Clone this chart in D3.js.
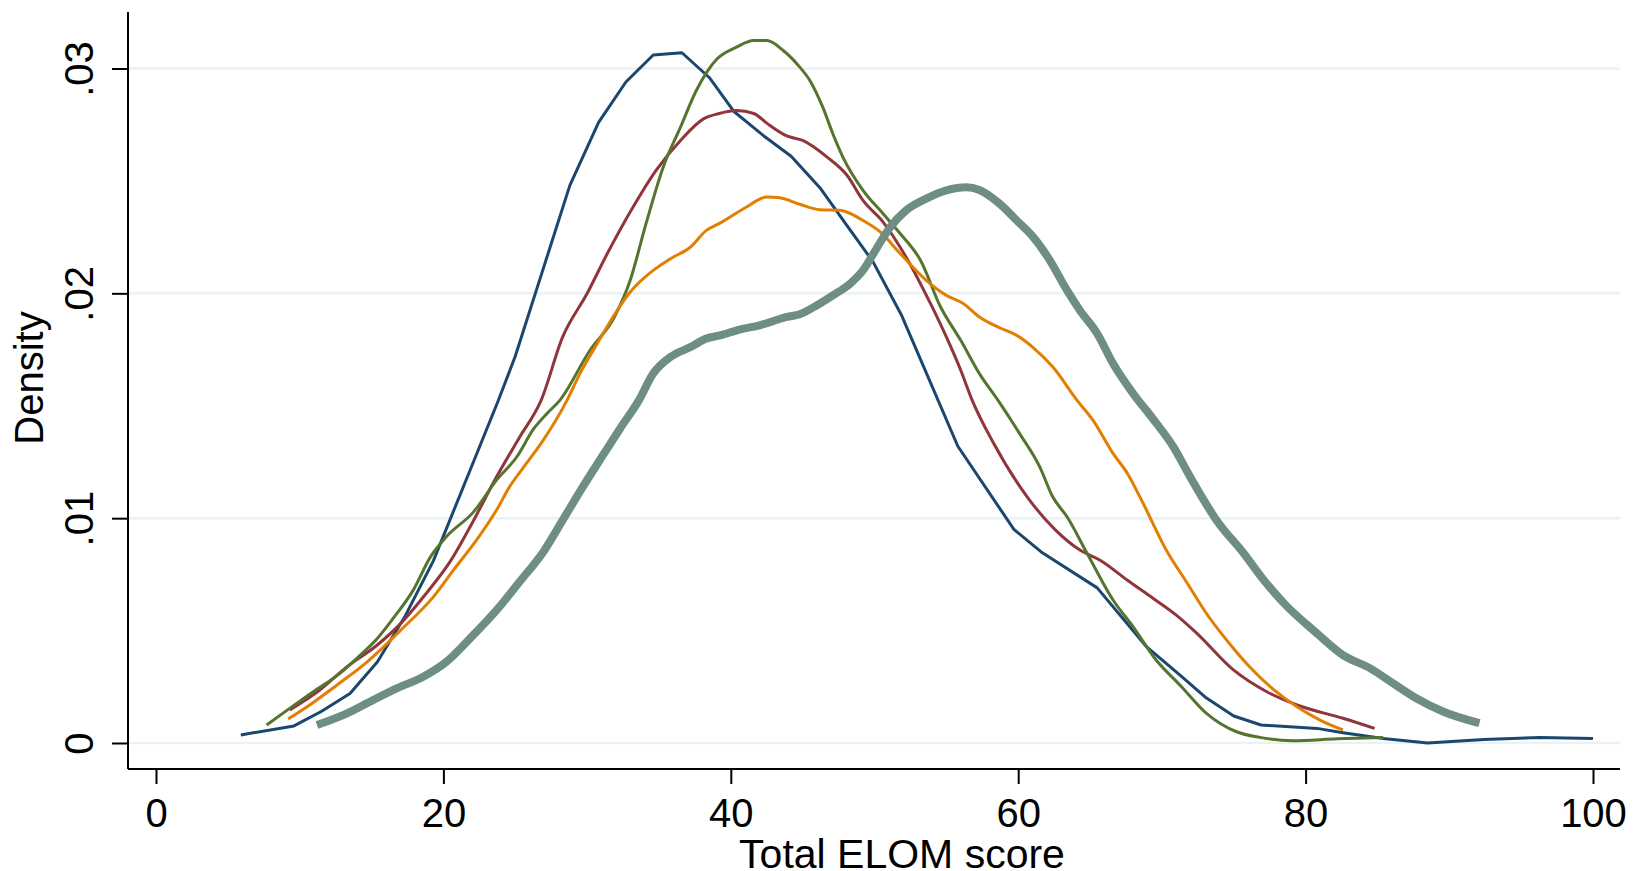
<!DOCTYPE html>
<html>
<head>
<meta charset="utf-8">
<script src="https://cdn.jsdelivr.net/npm/d3@7"></script>
<style>
  body { margin: 0; background: #fff; }
  text { font-family: "Liberation Sans", Arial, Helvetica, sans-serif; fill: #000; }
</style>
</head>
<body>
<div id="chart"></div>
<script>
// kernel density curves as [score, density]
var navy = [[5.9,0.00036],[9.6,0.00076],[11.5,0.0014],[13.5,0.0022],[15.4,0.0036],[17.3,0.0056],[19.3,0.0081],
  [23.8,0.0152],[25.0,0.0172],[27.0,0.0212],[28.8,0.0248],[30.8,0.0276],[32.7,0.0294],[34.6,0.0306],[36.6,0.0307],
  [38.5,0.0296],[40.2,0.0281],[42.3,0.0270],[44.2,0.0261],[46.2,0.0247],[48.1,0.0230],[49.9,0.0214],[51.9,0.0190],
  [55.8,0.0132],[59.7,0.0095],[61.6,0.0085],[65.5,0.0069],[68.9,0.0043],[71.3,0.0030],[73.1,0.0020],[75.0,0.0012],
  [76.9,0.0008],[80.8,0.00065],[82.6,0.00046],[85.4,0.0002],[88.5,0.0],[92.4,0.00016],[96.3,0.00025],[100,0.0002]];

var maroon = [[9.3,0.00147],[11.4,0.00236],[13.3,0.0034],[15.4,0.00436],[17.0,0.0053],[18.8,0.00665],[20.5,0.0081],
  [22.1,0.0099],[23.7,0.01184],[25.3,0.0136],[26.8,0.01524],[28.3,0.01806],[30.0,0.01999],[31.4,0.02176],[33.2,0.02384],
  [34.8,0.02547],[36.5,0.0268],[38.1,0.02776],[39.2,0.0280],[40.4,0.02813],[41.6,0.0280],[42.5,0.02757],[43.9,0.0270],
  [45.0,0.0268],[46.7,0.02606],[48.1,0.02524],[49.2,0.02413],[50.6,0.02317],[52.2,0.02161],[53.9,0.01954],[55.0,0.01806],
  [56.0,0.01658],[56.8,0.01524],[58.3,0.01332],[60.7,0.01088],[62.6,0.00947],[64.3,0.00858],[65.7,0.00813],[67.6,0.00724],
  [69.4,0.00643],[71.0,0.00569],[72.4,0.00490],[75.0,0.00324],[77.3,0.00228],[79.4,0.00169],[82.6,0.0011],[84.8,0.00065]];

var green = [[7.7,0.0008],[9.3,0.00154],[10.95,0.00228],[12.8,0.0031],[14.2,0.0039],[15.4,0.00465],[16.5,0.00554],
  [17.9,0.0068],[19.1,0.00828],[20.2,0.00917],[22.1,0.01028],[23.7,0.01169],[25.1,0.01272],[26.3,0.01399],[27.2,0.01465],
  [28.1,0.01524],[30.2,0.01747],[31.9,0.01895],[33.0,0.02058],[34.1,0.0231],[35.3,0.02562],[36.5,0.02739],[37.6,0.02902],
  [39.0,0.03040],[40.4,0.03095],[41.6,0.03124],[42.5,0.03124],[43.65,0.0308],[44.8,0.03006],[45.5,0.02947],[46.4,0.02828],
  [47.1,0.0271],[47.8,0.02606],[49.2,0.02458],[50.6,0.02354],[51.8,0.02265],[53.2,0.02147],[54.6,0.01939],[56.0,0.01791],
  [57.3,0.01643],[58.6,0.01524],[60.1,0.01376],[61.5,0.01228],[62.4,0.01095],[63.4,0.01006],[64.8,0.00843],[66.6,0.00636],
  [68.0,0.00517],[69.6,0.00369],[71.3,0.00255],[73.1,0.00132],[75.2,0.0005],[76.8,0.00025],[79.1,0.0001],[82.2,0.00019],
  [85.4,0.00025]];

var orange = [[9.2,0.00107],[10.7,0.00169],[12.6,0.00258],[14.7,0.00361],[17.0,0.005],[19.3,0.0065],[20.7,0.00769],
  [22.3,0.00902],[23.7,0.01036],[24.6,0.01139],[25.6,0.01228],[26.95,0.01347],[28.6,0.01524],[29.5,0.01643],[30.7,0.01776],
  [31.8,0.01895],[33.0,0.02006],[34.6,0.02102],[35.8,0.02154],[37.2,0.02206],[38.3,0.0228],[39.25,0.02312],[41.1,0.02384],
  [42.5,0.02428],[43.4,0.02425],[44.8,0.02396],[46.2,0.02372],[47.6,0.02369],[49.2,0.02324],[50.4,0.02273],[51.8,0.02176],
  [53.6,0.02058],[55.0,0.01991],[56.2,0.01954],[57.3,0.01895],[58.7,0.01847],[59.9,0.01813],[61.0,0.01761],[62.4,0.01673],
  [64.1,0.01524],[65.2,0.01436],[66.6,0.01288],[67.6,0.01199],[68.7,0.01065],[70.3,0.00858],[71.7,0.00717],[73.1,0.00576],
  [74.5,0.00458],[76.1,0.00339],[77.8,0.00236],[79.4,0.00161],[81.0,0.00102],[82.6,0.00058]];

var teal = [[11.2,0.0008],[13.3,0.00132],[15.1,0.00191],[16.75,0.00243],[18.6,0.00295],[20.2,0.00361],[21.85,0.00465],
  [23.7,0.00591],[25.3,0.00717],[26.95,0.0085],[28.3,0.00991],[29.7,0.01139],[31.1,0.0128],[32.3,0.01399],[33.6,0.01524],
  [34.6,0.01643],[35.8,0.01717],[37.2,0.01761],[38.3,0.01799],[39.25,0.01813],[40.6,0.01839],[42.0,0.01858],[43.9,0.01895],
  [44.8,0.01907],[46.0,0.01947],[47.1,0.01991],[48.3,0.02043],[49.2,0.02102],[50.2,0.02206],[51.1,0.02295],[52.2,0.02369],
  [53.6,0.02421],[55.0,0.02458],[56.4,0.02472],[57.3,0.0246],[58.7,0.02399],[59.9,0.02324],[61.05,0.0225],[62.2,0.02147],
  [63.4,0.02013],[64.3,0.01924],[65.5,0.01821],[66.6,0.01688],[68.0,0.01554],[69.4,0.01440],[70.8,0.01317],[72.0,0.01180],
  [73.8,0.00991],[75.7,0.00843],[77.1,0.00724],[78.5,0.00621],[80.8,0.00487],[82.6,0.00391],[84.5,0.00332],[86.1,0.00265],
  [87.7,0.00199],[89.6,0.00139],[92.1,0.00088]];

var xTicks = [0, 20, 40, 60, 80, 100];
var yTicks = [0, 0.01, 0.02, 0.03];
var yTickLabels = ['0', '.01', '.02', '.03'];

var W = 1638, H = 871;

var svg = d3.select('#chart')
  .append('svg')
  .attr('width', W)
  .attr('height', H);

var x = d3.scaleLinear().domain([0, 100]).range([156, 1593]);
var y = d3.scaleLinear().domain([0, 0.03]).range([743, 68.5]);

// plot region edges
var plotLeft = 128, plotRight = 1620, plotTop = 12, plotBottom = 769;

// grid lines
svg.selectAll('line.grid')
  .data(yTicks)
  .enter()
  .append('line')
  .attr('class', 'grid')
  .attr('x1', plotLeft)
  .attr('x2', plotRight)
  .attr('y1', function (d) { return y(d); })
  .attr('y2', function (d) { return y(d); })
  .attr('stroke', '#eaf2f3')
  .attr('stroke-width', 2.5);

// curves
var series = [
  { data: navy, color: '#1a476f', width: 3, curve: d3.curveLinear },
  { data: maroon, color: '#90353b', width: 3, curve: d3.curveMonotoneX },
  { data: green, color: '#55752f', width: 3, curve: d3.curveMonotoneX },
  { data: orange, color: '#e37e00', width: 3, curve: d3.curveMonotoneX },
  { data: teal, color: '#6e8e84', width: 8, curve: d3.curveMonotoneX }
];

series.forEach(function (s) {
  var line = d3.line()
    .x(function (d) { return x(d[0]); })
    .y(function (d) { return y(d[1]); })
    .curve(s.curve);
  svg.append('path')
    .attr('d', line(s.data))
    .attr('fill', 'none')
    .attr('stroke', s.color)
    .attr('stroke-width', s.width)
    .attr('stroke-linejoin', 'round');
});

// y axis
var yAxis = d3.axisLeft(y)
  .tickValues(yTicks)
  .tickSize(16)
  .tickFormat(function (d, i) { return yTickLabels[i]; });

var gy = svg.append('g')
  .attr('transform', 'translate(' + plotLeft + ',0)')
  .call(yAxis);
gy.select('.domain').remove();
gy.selectAll('.tick line').attr('stroke', '#000').attr('stroke-width', 2);
gy.selectAll('.tick text')
  .attr('x', null).attr('dy', null)
  .attr('transform', 'translate(-35,0) rotate(-90)')
  .attr('text-anchor', 'middle')
  .style('font-size', '40px')
  .style('font-family', '"Liberation Sans", Arial, sans-serif');

svg.append('line')
  .attr('x1', plotLeft).attr('x2', plotLeft)
  .attr('y1', plotTop).attr('y2', plotBottom)
  .attr('stroke', '#000').attr('stroke-width', 2);

// x axis
var xAxis = d3.axisBottom(x)
  .tickValues(xTicks)
  .tickSize(15)
  .tickFormat(d3.format('d'));

var gx = svg.append('g')
  .attr('transform', 'translate(0,' + plotBottom + ')')
  .call(xAxis);
gx.select('.domain').remove();
gx.selectAll('.tick line').attr('stroke', '#000').attr('stroke-width', 2);
gx.selectAll('.tick text')
  .attr('y', 58).attr('dy', null)
  .style('font-size', '40px')
  .style('font-family', '"Liberation Sans", Arial, sans-serif');

svg.append('line')
  .attr('x1', plotLeft).attr('x2', plotRight)
  .attr('y1', plotBottom).attr('y2', plotBottom)
  .attr('stroke', '#000').attr('stroke-width', 2);

// titles
svg.append('text')
  .attr('x', 902)
  .attr('y', 868)
  .attr('text-anchor', 'middle')
  .style('font-size', '41px')
  .text('Total ELOM score');

svg.append('text')
  .attr('transform', 'translate(43,378) rotate(-90)')
  .attr('text-anchor', 'middle')
  .style('font-size', '40px')
  .text('Density');
</script>
</body>
</html>
